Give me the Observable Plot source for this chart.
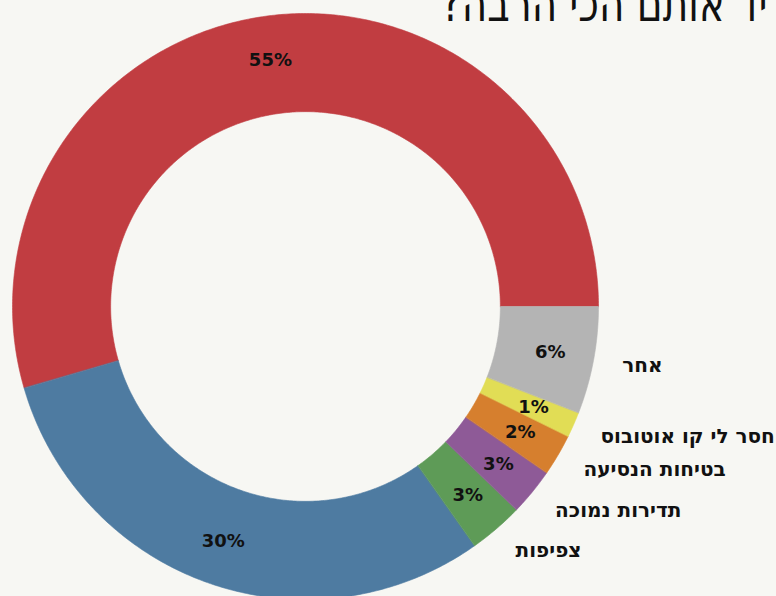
<!DOCTYPE html>
<html><head><meta charset="utf-8">
<script src="https://cdn.jsdelivr.net/npm/d3@7"></script>
<script src="https://cdn.jsdelivr.net/npm/@observablehq/plot@0.6"></script>
<style>
html,body{margin:0;padding:0;background:#f7f7f3;overflow:hidden;width:776px;height:596px;}
#wrap{position:relative;width:776px;height:596px;overflow:hidden;}
#chart{position:absolute;left:0;top:0;}
#title{position:absolute;left:441px;top:-11px;font-family:"DejaVu Sans";font-size:39px;line-height:39px;direction:rtl;white-space:nowrap;color:#111;transform:scaleY(1.3);transform-origin:0 35px;}
</style></head><body><div id="wrap"><div id="chart"></div><div id="title"></div></div>
<script>
// Data
const title = "מה מטריד אותם הכי הרבה?";
const labels = ["", "", "צפיפות", "תדירות נמוכה", "בטיחות הנסיעה", "חסר לי קו אוטובוס", "אחר"];
const values = [54.5, 30.3, 3.0, 2.6, 2.3, 1.4, 5.9];
const colors = ["#c13d41", "#4e7ba1", "#5e9b57", "#8e5a97", "#d67f2e", "#e1dd55", "#b4b4b4"];

document.getElementById("title").textContent = title;

const total = d3.sum(values);
const innerR = 0.665, pctR = 0.85, labR = 1.1;
const slices = [];
let cum = 0;
values.forEach((v, i) => {
  const a0 = 2 * Math.PI * cum / total;
  cum += v;
  const a1 = 2 * Math.PI * cum / total;
  slices.push({i, v, a0, a1, mid: (a0 + a1) / 2, label: labels[i], color: colors[i]});
});

const pts = [];
for (const s of slices) {
  const n = Math.max(4, Math.ceil((s.a1 - s.a0) / 0.01));
  for (let k = 0; k <= n; k++) {
    const a = s.a0 + (s.a1 - s.a0) * k / n;
    pts.push({i: s.i, color: s.color, x: Math.cos(a), y: Math.sin(a)});
  }
  for (let k = n; k >= 0; k--) {
    const a = s.a0 + (s.a1 - s.a0) * k / n;
    pts.push({i: s.i, color: s.color, x: innerR * Math.cos(a), y: innerR * Math.sin(a)});
  }
}

const cx = 305, cy = 306, R = 293;
const plot = Plot.plot({
  width: 776,
  height: 596,
  style: {background: "transparent", overflow: "hidden"},
  x: {domain: [-1, 1], range: [cx - R, cx + R], axis: null},
  y: {domain: [-1, 1], range: [cy + R, cy - R], axis: null},
  color: {type: "identity"},
  marks: [
    Plot.line(pts, {x: "x", y: "y", z: "i", fill: "color", stroke: "color", strokeWidth: 0.6, curve: "linear-closed"}),
    Plot.text(slices, {
      x: d => pctR * Math.cos(d.mid), y: d => pctR * Math.sin(d.mid),
      text: d => Math.round(d.v) + "%", fontSize: 18, fontWeight: "bold", fontFamily: "DejaVu Sans", fill: "#111"
    }),
    Plot.text(slices, {
      x: d => labR * Math.cos(d.mid), y: d => labR * Math.sin(d.mid),
      text: "label", textAnchor: "start", fontSize: 20, fontWeight: "bold", fontFamily: "DejaVu Sans", fill: "#111"
    })
  ]
});
document.getElementById("chart").appendChild(plot);
</script>
</body></html>
